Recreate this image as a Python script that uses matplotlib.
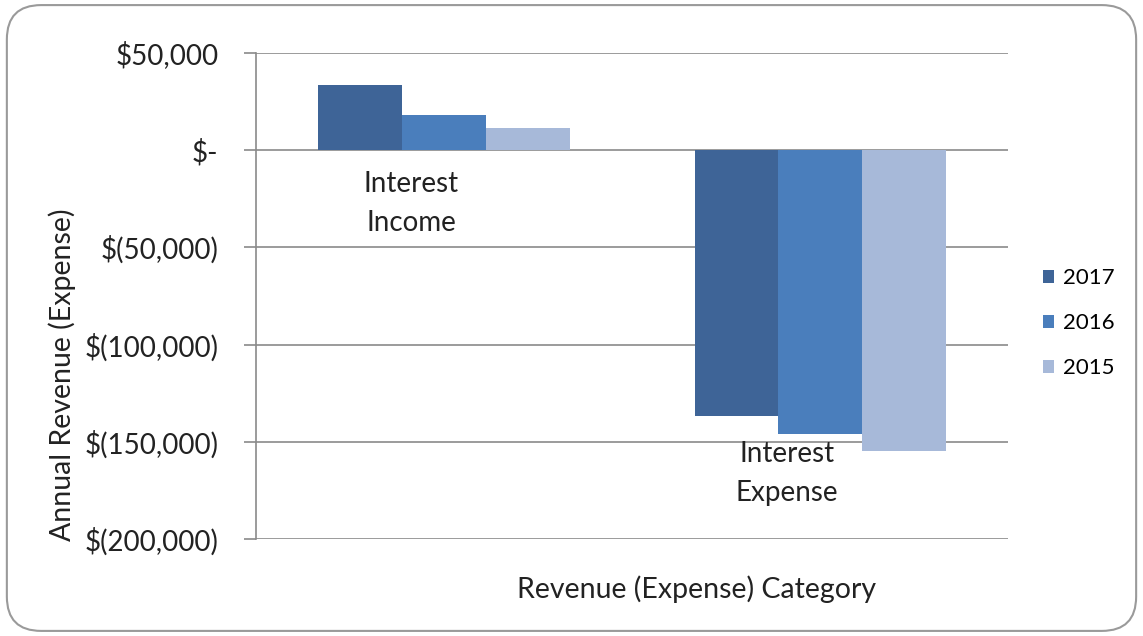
import matplotlib.pyplot as plt
import numpy as np
from matplotlib.patches import FancyBboxPatch
from matplotlib.ticker import FuncFormatter

categories = ["Interest\nIncome", "Interest\nExpense"]
years = ["2017", "2016", "2015"]
values_2017 = [33200, -136700]
values_2016 = [17800, -145800]
values_2015 = [11600, -154400]
colors = ["#3E6497", "#4A7EBC", "#A7B9D9"]

plt.rcParams["font.family"] = ["Lato", "DejaVu Sans"]


def money(v, pos):
    if v == 0:
        return "$-"
    if v < 0:
        return f"$({-v:,.0f})"
    return f"${v:,.0f}"


fig = plt.figure(figsize=(11.43, 6.36), dpi=100)
ax = fig.add_axes([0.224, 0.152, 0.658, 0.765])

x = np.arange(len(categories))
width = 0.2226
series = [values_2017, values_2016, values_2015]
for i, (vals, year, c) in enumerate(zip(series, years, colors)):
    ax.bar(x + (i - 1) * width, vals, width, color=c, label=year, zorder=3)

ax.set_xlim(-0.5, 1.5)
ax.set_ylim(-200000, 50000)
ax.set_yticks(np.arange(-200000, 50001, 50000))
ax.yaxis.set_major_formatter(FuncFormatter(money))
ax.set_xticks([])
ax.grid(axis="y", color="#8a8a8a", linewidth=1.2, zorder=0)
for s in ["top", "right", "bottom"]:
    ax.spines[s].set_visible(False)
ax.spines["left"].set_color("#8a8a8a")
ax.spines["left"].set_linewidth(1.2)
ax.tick_params(axis="y", length=9, width=1.2, color="#8a8a8a", labelsize=20, pad=18,
               labelcolor="#222222")

# category labels, placed where Excel put them
label_y = [-10800, -149700]
for xi, lab, ly in zip(x, categories, label_y):
    ax.text(xi - 0.088, ly, lab, ha="center", va="top", fontsize=20, linespacing=1.6,
            color="#222222")

fig.text(0.054, 0.41, "Annual Revenue (Expense)", rotation=90, ha="center", va="center",
         fontsize=20.5, color="#222222")
fig.text(0.609, 0.074, "Revenue (Expense) Category", ha="center", va="center", fontsize=20.5,
         color="#222222")

ax.legend(loc="center left", bbox_to_anchor=(1.035, 0.444), frameon=False, fontsize=16,
          handlelength=0.5, handleheight=0.5, handletextpad=0.4, labelspacing=1.12,
          borderaxespad=0)

border = FancyBboxPatch((0.006, 0.008), 0.988, 0.984, boxstyle="round,pad=0,rounding_size=0.03",
                        transform=fig.transFigure, fill=False, edgecolor="#9a9a9a", linewidth=1.5,
                        mutation_aspect=1143 / 636)
fig.patches.append(border)

fig.savefig("out.png", dpi=100)
